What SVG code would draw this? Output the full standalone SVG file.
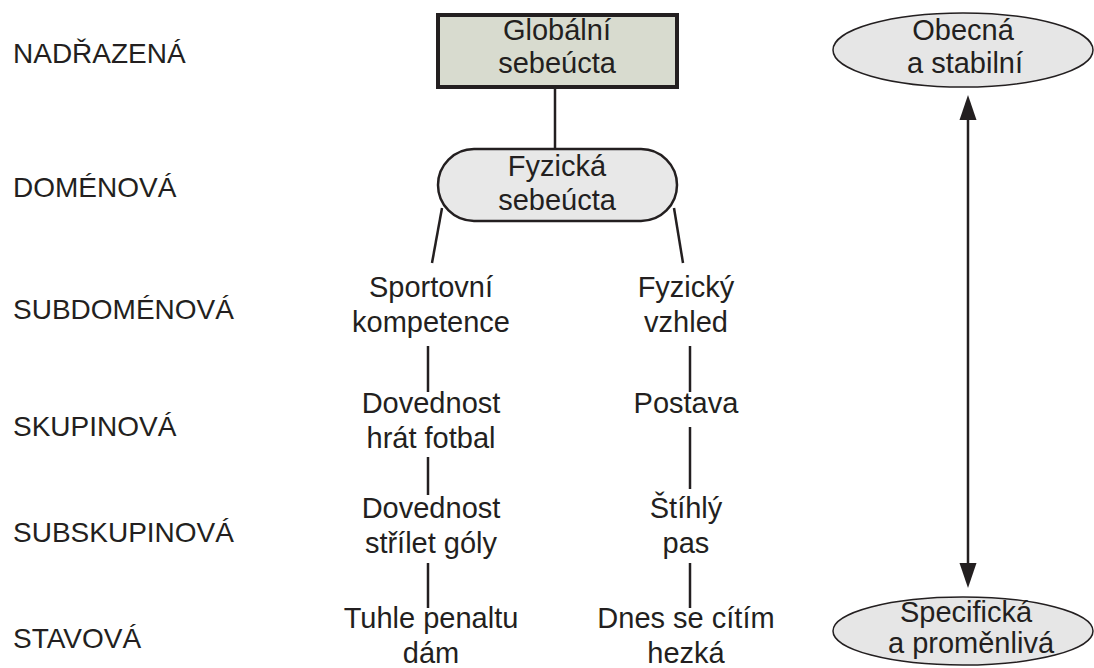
<svg xmlns="http://www.w3.org/2000/svg" width="1094" height="668" viewBox="0 0 1094 668">
<defs>
<style>
text{font-family:"Liberation Sans",Arial,sans-serif;fill:#231f20}
.lvl{font-size:28px}
.n{font-size:29px;text-anchor:middle}
.c{stroke:#231f20;stroke-width:2.5;fill:none}
.ell{fill:#e6e6e6;stroke:#231f20;stroke-width:1.5}
.ah{fill:#231f20}
</style>
</defs>
<rect width="1094" height="668" fill="#ffffff"/>
<g id="levels">
<text class="lvl" x="13" y="63">NADŘAZENÁ</text>
<text class="lvl" x="13" y="197">DOMÉNOVÁ</text>
<text class="lvl" x="13" y="319">SUBDOMÉNOVÁ</text>
<text class="lvl" x="13" y="436">SKUPINOVÁ</text>
<text class="lvl" x="13" y="542">SUBSKUPINOVÁ</text>
<text class="lvl" x="13" y="648">STAVOVÁ</text>
</g>
<g id="connectors">
<line class="c" x1="555" y1="89" x2="555" y2="149"/>
<line class="c" x1="442" y1="208" x2="432" y2="263"/>
<line class="c" x1="674" y1="208" x2="683" y2="263"/>
<line class="c" x1="428" y1="346" x2="428" y2="392"/>
<line class="c" x1="428" y1="457" x2="428" y2="495"/>
<line class="c" x1="428" y1="563" x2="428" y2="608"/>
<line class="c" x1="690" y1="346" x2="690" y2="392" stroke-width="3"/>
<line class="c" x1="690" y1="427" x2="690" y2="489"/>
<line class="c" x1="690" y1="563" x2="690" y2="608"/>
<line class="c" x1="968" y1="115" x2="968" y2="568" stroke-width="3"/>
<polygon class="ah" points="968,95 959.5,120 976.5,120"/>
<polygon class="ah" points="968,588 959.5,563 976.5,563"/>
</g>
<g id="global">
<rect x="438" y="15" width="239" height="72" fill="#d8dbcf" stroke="#231f20" stroke-width="4"/>
<text class="n" x="557" y="40">Globální</text>
<text class="n" x="557" y="73">sebeúcta</text>
</g>
<g id="fyzicka">
<rect x="438" y="149" width="239" height="72" rx="36" ry="36" fill="#e8e8e8" stroke="#231f20" stroke-width="2.5"/>
<text class="n" x="557" y="176">Fyzická</text>
<text class="n" x="557" y="210">sebeúcta</text>
</g>
<g id="sportovni">
<text class="n" x="431" y="297">Sportovní</text>
<text class="n" x="431" y="332">kompetence</text>
</g>
<g id="vzhled">
<text class="n" x="686" y="297">Fyzický</text>
<text class="n" x="686" y="332">vzhled</text>
</g>
<g id="fotbal">
<text class="n" x="431" y="413">Dovednost</text>
<text class="n" x="431" y="448">hrát fotbal</text>
</g>
<g id="postava">
<text class="n" x="686" y="413">Postava</text>
</g>
<g id="goly">
<text class="n" x="431" y="518">Dovednost</text>
<text class="n" x="431" y="553">střílet góly</text>
</g>
<g id="pas">
<text class="n" x="686" y="518">Štíhlý</text>
<text class="n" x="686" y="553">pas</text>
</g>
<g id="penalta">
<text class="n" x="431" y="628">Tuhle penaltu</text>
<text class="n" x="431" y="663">dám</text>
</g>
<g id="hezka">
<text class="n" x="686" y="628">Dnes se cítím</text>
<text class="n" x="686" y="663">hezká</text>
</g>
<g id="obecna">
<ellipse class="ell" cx="963" cy="50" rx="130" ry="37"/>
<text class="n" x="963" y="40">Obecná</text>
<text class="n" x="965" y="73">a stabilní</text>
</g>
<g id="specificka">
<ellipse class="ell" cx="963" cy="631" rx="130" ry="34"/>
<text class="n" x="966" y="622">Specifická</text>
<text class="n" x="971" y="653">a proměnlivá</text>
</g>
</svg>
